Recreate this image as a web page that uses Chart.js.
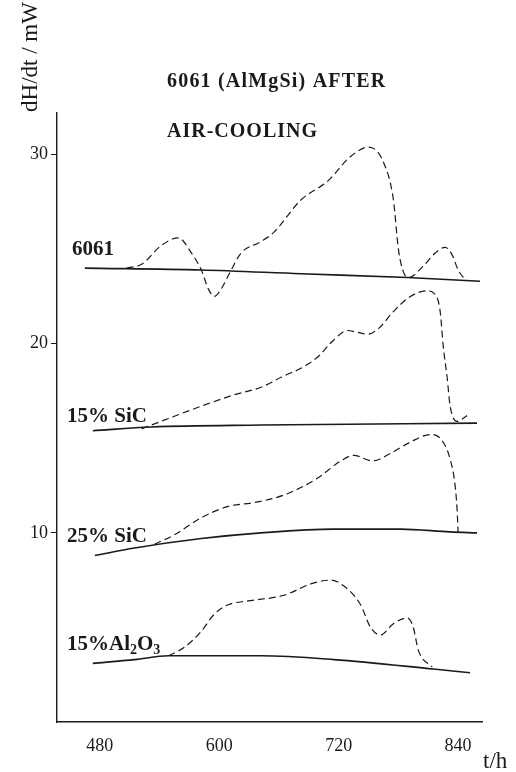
<!DOCTYPE html>
<html>
<head>
<meta charset="utf-8">
<script src="https://cdn.jsdelivr.net/npm/chart.js@4.4.1/dist/chart.umd.min.js"></script>
<style>
  body { margin: 0; background: #fff; }
  canvas { display: block; }
</style>
</head>
<body>
<canvas id="dscChart" width="516" height="772"></canvas>
<script>
// 軸の目盛り
const xTicks = [480, 600, 720, 840];
const yTicks = [10, 20, 30];

// 6061 (素材のみ)
const t6061Base = [465, 582, 682, 789, 862];
const v6061Base = [24.0, 23.9, 23.7, 23.5, 23.3];
const t6061Dash = [507, 522, 542, 559, 572, 582, 589, 595, 602, 611, 622, 642, 655, 682, 709, 732, 750, 765, 775, 780, 785, 790, 805, 817, 827, 834, 840, 847];
const v6061Dash = [24.0, 24.2, 25.2, 25.6, 24.8, 23.9, 22.9, 22.5, 22.9, 23.8, 24.8, 25.4, 25.9, 27.6, 28.6, 29.9, 30.4, 29.6, 27.6, 25.0, 23.8, 23.5, 24.1, 24.8, 25.1, 24.7, 23.9, 23.4];

// 15% SiC
const tSiC15Base = [473, 532, 642, 859];
const vSiC15Base = [15.4, 15.6, 15.7, 15.8];
const tSiC15Dash = [522, 549, 582, 615, 642, 665, 682, 699, 715, 729, 739, 749, 760, 775, 792, 809, 817, 822, 825, 829, 832, 839, 849];
const vSiC15Dash = [15.5, 16.05, 16.7, 17.3, 17.7, 18.3, 18.7, 19.3, 20.2, 20.7, 20.6, 20.5, 20.8, 21.7, 22.5, 22.8, 22.6, 21.7, 19.9, 18.2, 16.7, 15.9, 16.2];

// 25% SiC
const tSiC25Base = [475, 515, 582, 642, 715, 782, 832, 859];
const vSiC25Base = [8.8, 9.2, 9.7, 10.0, 10.2, 10.2, 10.05, 10.0];
const tSiC25Dash = [535, 555, 582, 609, 635, 665, 699, 722, 735, 754, 772, 792, 812, 822, 832, 837, 839, 840];
const vSiC25Dash = [9.4, 9.9, 10.8, 11.4, 11.6, 12.0, 12.9, 13.8, 14.1, 13.8, 14.2, 14.8, 15.2, 15.0, 13.9, 12.5, 11.2, 10.0];

// 15% Al2O3
const tAlBase = [473, 515, 549, 642, 715, 815, 852];
const vAlBase = [3.1, 3.3, 3.5, 3.5, 3.3, 2.8, 2.6];
const tAlDash = [549, 565, 582, 595, 609, 629, 665, 692, 712, 725, 742, 752, 762, 775, 789, 795, 800, 814];
const vAlDash = [3.5, 3.95, 4.8, 5.7, 6.2, 6.4, 6.7, 7.3, 7.5, 7.2, 6.2, 5.0, 4.6, 5.2, 5.5, 5.0, 3.8, 2.9];

const ink = '#1a1a1a';
const serif = '"Liberation Serif", "DejaVu Serif", serif';

function pts(ts, vs) {
  return ts.map((t, i) => ({ x: t, y: vs[i] }));
}

function solid(label, ts, vs) {
  return { label: label, data: pts(ts, vs), borderColor: ink, borderWidth: 1.6,
    pointRadius: 0, fill: false, cubicInterpolationMode: 'monotone' };
}
function dashed(label, ts, vs) {
  return { label: label, data: pts(ts, vs), borderColor: ink, borderWidth: 1.2,
    borderDash: [7, 4], pointRadius: 0, fill: false, cubicInterpolationMode: 'monotone' };
}

// ラベルやタイトルをキャンバスに直接描く
const textPlugin = {
  id: 'texts',
  afterDraw(chart) {
    const ctx = chart.ctx;
    ctx.save();
    ctx.fillStyle = ink;
    ctx.textBaseline = 'alphabetic';

    // タイトル (元の図は字間が広い)
    ctx.font = 'bold 20px ' + serif;
    ctx.letterSpacing = '1.2px';
    ctx.fillText('6061 (AlMgSi) AFTER', 167, 87);
    ctx.letterSpacing = '1px';
    ctx.fillText('AIR-COOLING', 167, 137);
    ctx.letterSpacing = '0px';

    // 系列名
    ctx.font = 'bold 21px ' + serif;
    ctx.fillText('6061', 72, 255);
    ctx.fillText('15% SiC', 67, 422);
    ctx.fillText('25% SiC', 67, 542);
    // 15%Al2O3 (下付き文字)
    let x = 67;
    const y = 650;
    const parts = [['15%Al', 0], ['2', 1], ['O', 0], ['3', 1]];
    parts.forEach(([s, sub]) => {
      ctx.font = sub ? 'bold 14px ' + serif : 'bold 21px ' + serif;
      ctx.fillText(s, x, sub ? y + 4 : y);
      x += ctx.measureText(s).width;
    });

    // 軸タイトル
    ctx.font = '23px ' + serif;
    ctx.fillText('t/h', 483, 768);
    ctx.translate(37, 57);
    ctx.rotate(-Math.PI / 2);
    ctx.textAlign = 'center';
    ctx.fillText('dH/dt / mW', 0, 0);
    ctx.restore();
  }
};

const ctx = document.getElementById('dscChart').getContext('2d');
const dscChart = new Chart(ctx, {
  type: 'line',
  data: {
    datasets: [
      solid('6061', t6061Base, v6061Base),
      dashed('6061 dH/dt', t6061Dash, v6061Dash),
      solid('15% SiC', tSiC15Base, vSiC15Base),
      dashed('15% SiC dH/dt', tSiC15Dash, vSiC15Dash),
      solid('25% SiC', tSiC25Base, vSiC25Base),
      dashed('25% SiC dH/dt', tSiC25Dash, vSiC25Dash),
      solid('15%Al2O3', tAlBase, vAlBase),
      dashed('15%Al2O3 dH/dt', tAlDash, vAlDash)
    ]
  },
  options: {
    responsive: false,
    animation: false,
    layout: { padding: { top: 113, right: 34, left: 0, bottom: 0 } },
    plugins: { legend: { display: false }, tooltip: { enabled: false } },
    scales: {
      x: {
        type: 'linear',
        min: 437,
        max: 864,
        afterBuildTicks: (scale) => { scale.ticks = xTicks.map(v => ({ value: v })); },
        afterFit: (scale) => { scale.height = 50; },
        grid: { drawOnChartArea: false, drawTicks: false },
        border: { display: true, color: ink, width: 1.4 },
        ticks: { color: ink, padding: 13, font: { family: serif, size: 18 } }
      },
      y: {
        min: 0,
        max: 32.2,
        afterBuildTicks: (scale) => { scale.ticks = yTicks.map(v => ({ value: v })); },
        afterFit: (scale) => { scale.width = 57; },
        grid: { drawOnChartArea: false, drawTicks: true, tickLength: 6, color: ink },
        border: { display: true, color: ink, width: 1.4 },
        ticks: { color: ink, padding: 3, font: { family: serif, size: 18 } }
      }
    }
  },
  plugins: [textPlugin]
});
</script>
</body>
</html>
